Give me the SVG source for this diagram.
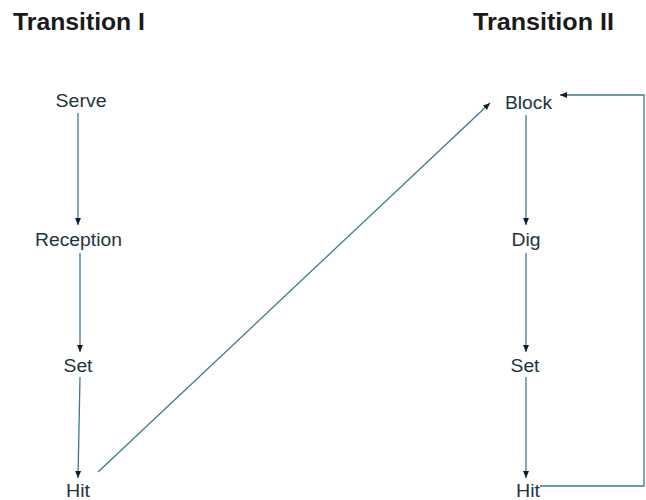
<svg xmlns="http://www.w3.org/2000/svg" width="646" height="500" viewBox="0 0 646 500">
<style>
.t{font-family:"Liberation Sans",Arial,sans-serif;font-weight:bold;font-size:23.5px;fill:#1a1a1a}
.n{font-family:"Liberation Sans",Arial,sans-serif;font-size:17.5px;fill:#1e3440;text-anchor:middle}
.c{stroke:#3f7890;stroke-width:1.3;fill:none}
</style>
<defs>
<marker id="ah" markerWidth="8" markerHeight="8" refX="7" refY="4" orient="auto" markerUnits="userSpaceOnUse">
<path d="M0,1 L7,4 L0,7 Z" fill="#1a1a1a"/>
</marker>
</defs>
<rect width="646" height="500" fill="#fff"/>
<text class="t" x="13" y="30" textLength="132" lengthAdjust="spacingAndGlyphs">Transition I</text>
<text class="t" x="473" y="30" textLength="141" lengthAdjust="spacingAndGlyphs">Transition II</text>
<g id="connectors">
<line class="c" x1="78" y1="113" x2="78" y2="225" marker-end="url(#ah)"/>
<line class="c" x1="80" y1="253" x2="80" y2="352" marker-end="url(#ah)"/>
<line class="c" x1="80" y1="377" x2="78" y2="478" marker-end="url(#ah)"/>
<line class="c" x1="98" y1="472" x2="490" y2="103" marker-end="url(#ah)"/>
<line class="c" x1="526" y1="115" x2="526" y2="225" marker-end="url(#ah)"/>
<line class="c" x1="526" y1="253" x2="526" y2="352" marker-end="url(#ah)"/>
<line class="c" x1="526" y1="377" x2="526" y2="478" marker-end="url(#ah)"/>
<polyline class="c" points="540,486 644,486 644,95 560,95" marker-end="url(#ah)"/>
</g>
<g id="serve"><text class="n" x="81" y="107" textLength="51" lengthAdjust="spacingAndGlyphs">Serve</text></g>
<g id="reception"><text class="n" x="78.5" y="246" textLength="87" lengthAdjust="spacingAndGlyphs">Reception</text></g>
<g id="set1"><text class="n" x="78" y="372" textLength="29" lengthAdjust="spacingAndGlyphs">Set</text></g>
<g id="hit1"><text class="n" x="78" y="497" textLength="24" lengthAdjust="spacingAndGlyphs">Hit</text></g>
<g id="block"><text class="n" x="528.5" y="109" textLength="47" lengthAdjust="spacingAndGlyphs">Block</text></g>
<g id="dig"><text class="n" x="526" y="246" textLength="29" lengthAdjust="spacingAndGlyphs">Dig</text></g>
<g id="set2"><text class="n" x="525" y="372" textLength="29" lengthAdjust="spacingAndGlyphs">Set</text></g>
<g id="hit2"><text class="n" x="528" y="497" textLength="24" lengthAdjust="spacingAndGlyphs">Hit</text></g>
</svg>
